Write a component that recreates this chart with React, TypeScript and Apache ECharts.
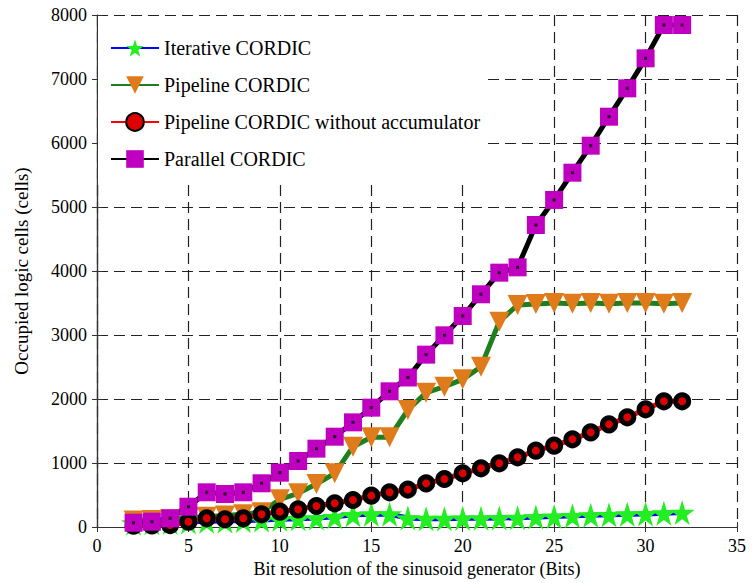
import React, { useEffect, useRef } from "react";
import * as echarts from "echarts";

const bits = [2,3,4,5,6,7,8,9,10,11,12,13,14,15,16,17,18,19,20,21,22,23,24,25,26,27,28,29,30,31,32];
const iterative = [60,65,70,80,90,95,100,110,120,130,140,160,190,200,200,140,130,130,135,135,140,145,155,165,175,185,190,200,205,215,225];
const pipeline = [100,110,120,140,160,180,200,230,433,526,672,839,1255,1401,1401,1828,2099,2193,2307,2505,3208,3469,3484,3500,3490,3500,3490,3500,3500,3490,3500];
const pipelineNoAcc = [20,25,30,83,136,120,136,198,240,276,328,370,422,490,542,585,682,750,839,917,995,1089,1193,1271,1370,1479,1604,1714,1839,1964,1964];
const parallel = [67,83,136,317,542,516,542,683,849,1031,1224,1411,1635,1865,2120,2336,2693,2995,3297,3636,3974,4057,4719,5110,5536,5958,6411,6854,7323,7844,7844];
const seriesNames = ["Iterative CORDIC", "Pipeline CORDIC", "Pipeline CORDIC without accumulator", "Parallel CORDIC"];

const FONT = "'Liberation Serif', 'Times New Roman', serif";
const STAR = "path://M50,0 L61,35 L98,35 L68,57 L79,91 L50,70 L21,91 L32,57 L2,35 L39,35 Z";

const pts = (ys: number[]) => bits.map((b, i) => [b, ys[i]]);

export default function App() {
  const ref = useRef<HTMLDivElement>(null);
  useEffect(() => {
    const chart = echarts.init(ref.current!, null, { renderer: "svg" });
    const splitLine = { show: true, lineStyle: { color: "#222", type: [11, 6] as any, width: 1.2 } };
    const frame = { show: true, lineStyle: { color: "#333", width: 1.2 } };
    const tick = { show: true, inside: true, length: 5, lineStyle: { color: "#333" } };
    chart.setOption({
      animation: false,
      grid: { left: 97, right: 15, top: 15, bottom: 56 },
      legend: {
        orient: "vertical",
        left: 98,
        top: 16,
        padding: [22, 8, 16, 12],
        itemWidth: 48,
        itemHeight: 22,
        itemGap: 17,
        backgroundColor: "#fff",
        textStyle: { fontFamily: FONT, fontSize: 20, color: "#000" },
        data: seriesNames,
      },
      xAxis: [
        {
          type: "value", min: 0, max: 35, interval: 5,
          axisLine: frame, axisTick: tick,
          axisLabel: { fontFamily: FONT, fontSize: 18, color: "#000", margin: 10 },
          splitLine,
          name: "Bit resolution of the sinusoid generator (Bits)",
          nameLocation: "middle", nameGap: 31,
          nameTextStyle: { fontFamily: FONT, fontSize: 18, color: "#000" },
        },
        {
          type: "value", min: 0, max: 35, interval: 5, position: "top",
          axisLine: frame, axisTick: tick,
          axisLabel: { show: false }, splitLine: { show: false },
        },
      ],
      yAxis: [
        {
          type: "value", min: 0, max: 8000, interval: 1000,
          axisLine: frame, axisTick: tick,
          axisLabel: { fontFamily: FONT, fontSize: 18, color: "#000", margin: 10, formatter: (v: number) => String(v) },
          splitLine,
          name: "Occupied logic cells (cells)",
          nameLocation: "middle", nameGap: 66,
          nameTextStyle: { fontFamily: FONT, fontSize: 19, color: "#000" },
        },
        {
          type: "value", min: 0, max: 8000, interval: 1000, position: "right",
          axisLine: frame, axisTick: tick,
          axisLabel: { show: false }, splitLine: { show: false },
        },
      ],
      series: [
        {
          name: seriesNames[0], type: "line", data: pts(iterative), z: 3,
          symbol: STAR, symbolSize: 25,
          lineStyle: { color: "#0000ff", width: 5 },
          itemStyle: { color: "#22ee22", borderWidth: 0 },
        },
        {
          name: seriesNames[1], type: "line", data: pts(pipeline), z: 4,
          symbol: "triangle", symbolRotate: 180, symbolSize: 20,
          lineStyle: { color: "#1e7f1e", width: 5 },
          itemStyle: { color: "#e07b1c", borderWidth: 0 },
        },
        {
          name: seriesNames[2], type: "line", data: pts(pipelineNoAcc), z: 5,
          symbol: "circle", symbolSize: 13,
          lineStyle: { color: "#ff0000", width: 5 },
          itemStyle: { color: "#dd0000", borderColor: "#000", borderWidth: 5 },
        },
        {
          name: seriesNames[3], type: "line", data: pts(parallel), z: 6,
          symbol: "rect", symbolSize: 18,
          lineStyle: { color: "#000", width: 5 },
          itemStyle: { color: "#c000c0", borderWidth: 0 },
        },
        {
          type: "scatter", data: pts(parallel), z: 7, silent: true,
          symbol: "rect", symbolSize: 3,
          itemStyle: { color: "#000" },
        },
      ],
    });
    return () => chart.dispose();
  }, []);
  return <div ref={ref} style={{ position: "absolute", left: 0, top: 0, width: 752, height: 583 }} />;
}
